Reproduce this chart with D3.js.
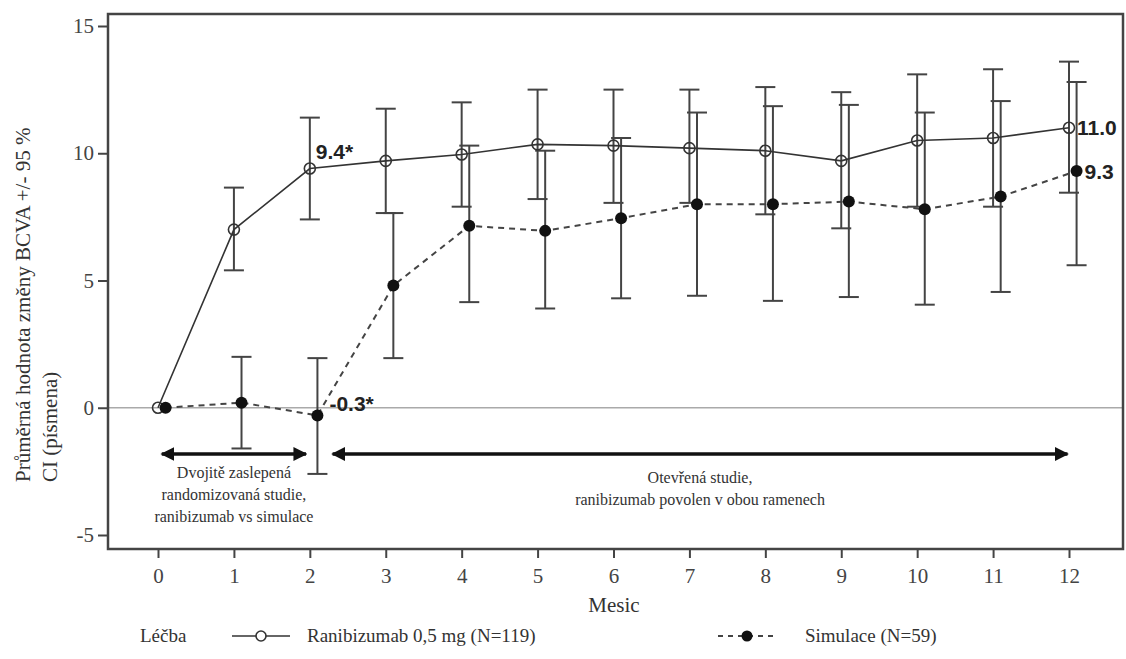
<!DOCTYPE html>
<html>
<head>
<meta charset="utf-8">
<script src="https://cdn.jsdelivr.net/npm/d3@7"></script>
<style>
  body { margin: 0; background: #fff; }
  svg text { font-family: "Liberation Serif", "Times New Roman", serif; fill: #333; }
  .axis path { display: none; }
  .axis line { stroke: #444; stroke-width: 2; }
  .axis text { font-family: "Liberation Serif", "Times New Roman", serif; font-size: 21px; fill: #444; }
  .num { font-family: "Liberation Sans", Arial, sans-serif !important; font-weight: bold; font-size: 21px; fill: #222 !important; }
</style>
</head>
<body>
<div id="chart"></div>
<script>
// DATA
let months = [0, 1, 2, 3, 4, 5, 6, 7, 8, 9, 10, 11, 12];

let ranMean  = [0, 7.0, 9.4, 9.7, 9.95, 10.35, 10.3, 10.2, 10.1, 9.7, 10.5, 10.6, 11.0];
let ranLower = [null, 5.4, 7.4, 7.65, 7.9, 8.2, 8.05, 8.05, 7.6, 7.05, 7.9, 7.9, 8.45];
let ranUpper = [null, 8.65, 11.4, 11.75, 12.0, 12.5, 12.5, 12.5, 12.6, 12.4, 13.1, 13.3, 13.6];

let simMean  = [0, 0.2, -0.3, 4.8, 7.15, 6.95, 7.45, 8.0, 8.0, 8.1, 7.8, 8.3, 9.3];
let simLower = [null, -1.6, -2.6, 1.95, 4.15, 3.9, 4.3, 4.4, 4.2, 4.35, 4.05, 4.55, 5.6];
let simUpper = [null, 2.0, 1.95, 7.65, 10.3, 10.1, 10.6, 11.6, 11.85, 11.9, 11.6, 12.05, 12.8];

let yTicks = [-5, 0, 5, 10, 15];

let labels = [
    {text: "9.4*", month: 2, value: 9.4, dx: 6, dy: -10},
    {text: "-0.3*", month: 2.1, value: -0.3, dx: 12, dy: -4},
    {text: "11.0", month: 12, value: 11.0, dx: 8, dy: 7},
    {text: "9.3", month: 12.1, value: 9.3, dx: 8, dy: 8}
];

let simOffset = 0.1;   // simulace drawn slightly right of the month

// CHART AREA
let width = 1126, height = 659;
let frame = {left: 108, right: 1123, top: 14, bottom: 549};
let serif = "'Liberation Serif', 'Times New Roman', serif";

let svg = d3.select("#chart").append("svg")
    .attr("width", width)
    .attr("height", height);

let x = d3.scaleLinear().domain([0, 12]).range([158, 1069]);
let y = d3.scaleLinear().domain([-5, 15]).range([535, 26]);

// zero line
svg.append("line")
    .attr("x1", frame.left).attr("x2", frame.right)
    .attr("y1", y(0)).attr("y2", y(0))
    .attr("stroke", "#aaa").attr("stroke-width", 1.5);

// AXIS
svg.append("g")
    .attr("class", "axis")
    .attr("transform", "translate(" + frame.left + ",0)")
    .call(d3.axisLeft(y).tickValues(yTicks).tickSize(10).tickPadding(4).tickFormat(d => String(d)))
    .attr("font-family", serif);

svg.append("g")
    .attr("class", "axis")
    .attr("transform", "translate(0," + frame.bottom + ")")
    .call(d3.axisBottom(x).tickValues(months).tickSize(9).tickPadding(10).tickFormat(d => String(d)))
    .attr("font-family", serif);

// frame
svg.append("rect")
    .attr("x", frame.left).attr("y", frame.top)
    .attr("width", frame.right - frame.left)
    .attr("height", frame.bottom - frame.top)
    .attr("fill", "none")
    .attr("stroke", "#444").attr("stroke-width", 2.5);

// axis titles
svg.append("text")
    .attr("x", 614).attr("y", 612)
    .attr("text-anchor", "middle")
    .attr("font-family", serif)
    .style("font-size", "21px")
    .text("Mesic");

let yTitle = svg.append("text")
    .attr("transform", "translate(30,482) rotate(-90)")
    .attr("font-family", serif)
    .style("font-size", "21px");
yTitle.append("tspan").attr("x", 0).attr("y", 0).text("Průměrná hodnota změny BCVA +/- 95 %");
yTitle.append("tspan").attr("x", 0).attr("y", 27).text("CI (písmena)");

// build rows
let ranData = months.map((m, i) => ({m: m, v: ranMean[i], lo: ranLower[i], hi: ranUpper[i]}));
let simData = months.map((m, i) => ({m: m + simOffset, v: simMean[i], lo: simLower[i], hi: simUpper[i]}));

function errorBars(data, cls) {
    let g = svg.append("g").attr("class", cls);
    let rows = data.filter(d => d.lo != null);
    g.selectAll(".stem").data(rows).enter().append("line")
        .attr("x1", d => x(d.m)).attr("x2", d => x(d.m))
        .attr("y1", d => y(d.lo)).attr("y2", d => y(d.hi))
        .attr("stroke", "#444").attr("stroke-width", 2);
    ["lo", "hi"].forEach(k => {
        g.selectAll(".cap-" + k).data(rows).enter().append("line")
            .attr("x1", d => x(d.m) - 10).attr("x2", d => x(d.m) + 10)
            .attr("y1", d => y(d[k])).attr("y2", d => y(d[k]))
            .attr("stroke", "#444").attr("stroke-width", 2);
    });
}

errorBars(ranData, "ran-err");
errorBars(simData, "sim-err");

let line = d3.line().x(d => x(d.m)).y(d => y(d.v));

svg.append("path").datum(ranData)
    .attr("d", line)
    .attr("fill", "none")
    .attr("stroke", "#333").attr("stroke-width", 1.6);

svg.append("path").datum(simData)
    .attr("d", line)
    .attr("fill", "none")
    .attr("stroke", "#444").attr("stroke-width", 2)
    .attr("stroke-dasharray", "6,5");

svg.selectAll(".ran-pt").data(ranData).enter().append("circle")
    .attr("cx", d => x(d.m)).attr("cy", d => y(d.v))
    .attr("r", 5.5)
    .attr("fill", "none")
    .attr("stroke", "#333").attr("stroke-width", 1.6);

svg.selectAll(".sim-pt").data(simData).enter().append("circle")
    .attr("cx", d => x(d.m)).attr("cy", d => y(d.v))
    .attr("r", 6)
    .attr("fill", "#111");

// value labels
svg.selectAll(".num").data(labels).enter().append("text")
    .attr("class", "num")
    .attr("x", d => x(d.month) + d.dx)
    .attr("y", d => y(d.value) + d.dy)
    .text(d => d.text);

// period arrows
svg.append("defs").selectAll("marker")
    .data(["arrowEnd", "arrowStart"]).enter().append("marker")
    .attr("id", d => d)
    .attr("viewBox", "0 0 10 10")
    .attr("refX", 9).attr("refY", 5)
    .attr("markerWidth", 4).attr("markerHeight", 4)
    .attr("markerUnits", "strokeWidth")
    .attr("orient", d => d == "arrowEnd" ? "auto" : "auto-start-reverse")
    .append("path")
    .attr("d", "M0,0 L10,5 L0,10 Z")
    .attr("fill", "#111");

let periods = [
    {from: 0.05, to: 1.95, lines: ["Dvojitě zaslepená", "randomizovaná studie,", "ranibizumab vs simulace"], ty: 478},
    {from: 2.3, to: 11.98, lines: ["Otevřená studie,", "ranibizumab povolen v obou ramenech"], ty: 483}
];

periods.forEach(p => {
    svg.append("line")
        .attr("x1", x(p.from)).attr("x2", x(p.to))
        .attr("y1", 454).attr("y2", 454)
        .attr("stroke", "#111").attr("stroke-width", 3.5)
        .attr("marker-start", "url(#arrowStart)")
        .attr("marker-end", "url(#arrowEnd)");
    let t = svg.append("text")
        .attr("text-anchor", "middle")
        .attr("font-family", serif)
        .style("font-size", "16px");
    p.lines.forEach((s, i) => {
        t.append("tspan")
            .attr("x", (x(p.from) + x(p.to)) / 2)
            .attr("y", p.ty + i * 22)
            .text(s);
    });
});

// LEGEND
let legY = 642;
svg.append("text").attr("x", 140).attr("y", legY).attr("font-family", serif)
    .style("font-size", "19px").text("Léčba");

let leg = svg.append("g").attr("font-family", serif);
leg.append("line").attr("x1", 232).attr("x2", 290).attr("y1", legY - 6).attr("y2", legY - 6)
    .attr("stroke", "#333").attr("stroke-width", 1.6);
leg.append("circle").attr("cx", 261).attr("cy", legY - 6).attr("r", 5)
    .attr("fill", "#fff").attr("stroke", "#333").attr("stroke-width", 1.6);
leg.append("text").attr("x", 307).attr("y", legY).style("font-size", "19px").text("Ranibizumab 0,5 mg (N=119)");

leg.append("line").attr("x1", 718).attr("x2", 776).attr("y1", legY - 6).attr("y2", legY - 6)
    .attr("stroke", "#444").attr("stroke-width", 2).attr("stroke-dasharray", "5,5");
leg.append("circle").attr("cx", 747).attr("cy", legY - 6).attr("r", 5.5).attr("fill", "#111");
leg.append("text").attr("x", 805).attr("y", legY).style("font-size", "19px").text("Simulace (N=59)");
</script>
</body>
</html>
